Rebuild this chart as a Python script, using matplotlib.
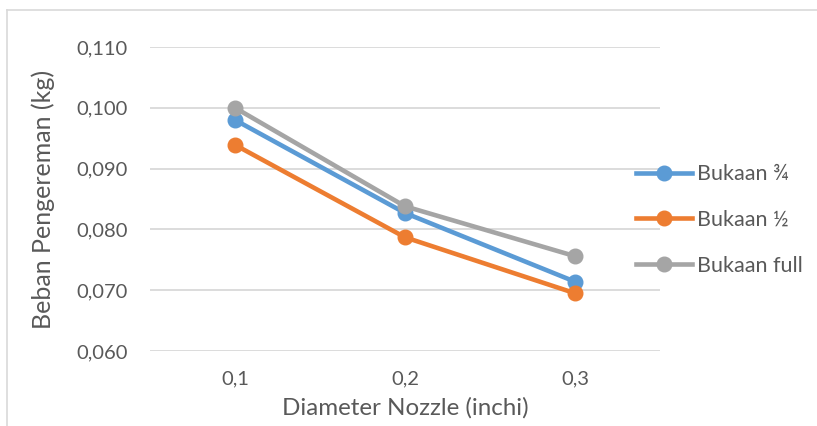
import matplotlib.pyplot as plt
from matplotlib.lines import Line2D

# data
diameter = ['0,1', '0,2', '0,3']
bukaan_34 = [0.0980, 0.0827, 0.0714]
bukaan_12 = [0.0939, 0.0787, 0.0695]
bukaan_full = [0.1000, 0.0838, 0.0756]
series_names = ['Bukaan ¾', 'Bukaan ½', 'Bukaan full']
series_colors = ['#5B9BD5', '#ED7D31', '#A5A5A5']
y_ticks = [0.060, 0.070, 0.080, 0.090, 0.100, 0.110]

plt.rcParams['font.family'] = ['Lato', 'DejaVu Sans']
text_color = '#595959'

fig = plt.figure(figsize=(8.17, 4.26), dpi=100)
ax = fig.add_axes([150 / 817, 75 / 426, 510 / 817, 304 / 426])

x = list(range(len(diameter)))
for vals, name, col in zip([bukaan_34, bukaan_12, bukaan_full], series_names, series_colors):
    ax.plot(x, vals, color=col, lw=3.3, marker='o', markersize=10.5,
            solid_capstyle='round', label=name, zorder=3, clip_on=False)

ax.set_xlim(-0.5, 2.5)
ax.set_ylim(0.060, 0.110)
ax.set_yticks(y_ticks)
ax.set_yticklabels([f'{v:.3f}'.replace('.', ',') for v in y_ticks])
ax.set_xticks(x)
ax.set_xticklabels(diameter)
ax.grid(axis='y', color='#D9D9D9', lw=1.3, zorder=0)
ax.set_axisbelow(True)
for s in ax.spines.values():
    s.set_visible(False)
ax.tick_params(length=0, labelsize=14.5, colors=text_color)
ax.tick_params(axis='y', pad=16)
ax.tick_params(axis='x', pad=14)

ax.set_ylabel('Beban Pengereman (kg)', fontsize=18, color=text_color)
ax.yaxis.set_label_coords(-0.186, 0.5)
ax.set_xlabel('Diameter Nozzle (inchi)', fontsize=17.4, color=text_color, labelpad=7)

handles = [Line2D([], [], color=c, lw=3.3, marker='o', markersize=10.5) for c in series_colors]
leg = fig.legend(handles, series_names, loc='center left', bbox_to_anchor=(636 / 817, 1 - 220 / 426),
                 frameon=False, fontsize=15.5, handlelength=2.6, handletextpad=0.25,
                 labelspacing=1.2, borderaxespad=0, borderpad=0)
for t in leg.get_texts():
    t.set_color(text_color)

# chart frame (top and left edges visible)
fig.add_artist(Line2D([7 / 817, 7 / 817], [0, 1 - 10 / 426], transform=fig.transFigure, color='#D9D9D9', lw=1.2))
fig.add_artist(Line2D([7 / 817, 1], [1 - 10 / 426, 1 - 10 / 426], transform=fig.transFigure, color='#D9D9D9', lw=1.2))

fig.savefig('out.png', dpi=100)
